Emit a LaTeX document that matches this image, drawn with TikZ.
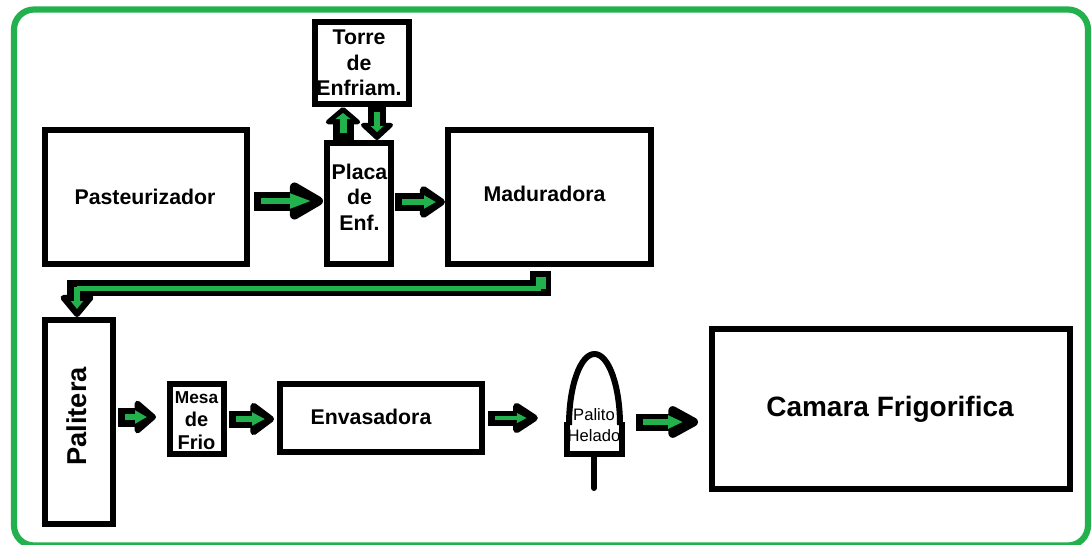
\documentclass[tikz,border=0pt]{standalone}
\usepackage{fontspec}
\setmainfont{Liberation Sans}
\usetikzlibrary{arrows.meta}
\definecolor{flowgreen}{HTML}{22B14C}
\newcommand{\flow}[9]{%
  \draw[line width=#5pt,black,-{Triangle[length=#6pt+2pt,width=#7pt+9pt,round,line width=9pt]}] #1 -- #2;
  \draw[line width=#8pt,flowgreen,-{Triangle[length=#9pt,width=2.1*#8pt]}] #3 -- #4;
}
\tikzset{
  x=1pt,y=-1pt,
  boxs/.style={draw=black,line width=6pt,fill=white,inner sep=0pt,outer sep=3pt,line join=miter},
  lbl/.style={font=\bfseries\fontsize{21.3}{25.5}\selectfont,align=center,inner sep=0pt,text=black},
  frame/.style={draw=flowgreen,line width=6.2pt,rounded corners=20pt},
}
\begin{document}
\begin{tikzpicture}
\useasboundingbox (0,0) rectangle (1092,544);
\fill[white] (0,0) rectangle (1092,544);
\begin{scope}
\clip (0,0) rectangle (1092,544);
\draw[frame] (14,9.5) rectangle (1088,545.5);
\end{scope}
% boxes
\node[boxs,minimum width=202pt,minimum height=134pt] (past) at (146,197) {};
\node[boxs,minimum width=64pt,minimum height=121pt] (placa) at (359,203.5) {};
\node[boxs,minimum width=94pt,minimum height=82pt] (torre) at (362,63) {};
\node[boxs,minimum width=203pt,minimum height=134pt] (madu) at (549.5,197) {};
\node[boxs,minimum width=68pt,minimum height=204pt] (pali) at (79,422) {};
\node[boxs,minimum width=54pt,minimum height=70pt] (mesa) at (197,419) {};
\node[boxs,minimum width=202pt,minimum height=68pt] (enva) at (381,418) {};
\node[boxs,minimum width=358pt,minimum height=160pt] (cama) at (891,409) {};
% popsicle
\node[inner sep=0pt,minimum width=61pt,minimum height=106pt] (helado) at (594.5,404) {};
\draw[line width=6pt,line join=round] (569,425) arc[start angle=180,end angle=0,x radius=25.5,y radius=-71];
\draw[line width=6pt,line join=miter] (567,422) -- (567,454) -- (622,454) -- (622,422);
\coordinate (stickend) at (594,488);
\draw[line width=6pt,line cap=round] (594,454) -- (stickend);
% labels
\node[lbl] (tpast) at (145,197) {Pasteurizador};
\node[lbl] (tplaca) at (359.5,197) {Placa\\de\\Enf.};
\node[lbl] (ttorre) at (359,63) {Torre\\de\\Enfriam.};
\node[lbl] (tmadu) at (544.5,193.5) {Maduradora};
\node[lbl,rotate=90,font=\bfseries\fontsize{27.3}{30}\selectfont] (tpali) at (77,416.5) {Palitera};
\node[lbl,font=\bfseries\fontsize{20}{23}\selectfont] (tmesa) at (196.5,421) {{\fontsize{17.3}{23}\selectfont Mesa}\\de\\Frio};
\node[lbl] (tenva) at (371,417) {Envasadora};
\node[lbl,font=\fontsize{16.6}{20.5}\selectfont] (thel) at (594,425) {Palito\\Helado};
\node[lbl,font=\bfseries\fontsize{28}{32}\selectfont] (tcama) at (890,409) {Camara Frigorifica};
% connectors: black body and green core, given by named ends
\coordinate (r1) at (0,201);
\coordinate (r2) at (0,202);
\coordinate (r3) at (0,417);
\coordinate (r4) at (0,419);
\coordinate (r5) at (0,418);
\coordinate (r6) at (0,422);
\coordinate (c1) at (343,0);
\coordinate (c2) at (377,0);
\begin{scope}[line cap=butt]
\flow{([xshift=4pt]past.east |- r1)}{([xshift=-1pt]placa.west |- r1)}{([xshift=11pt]past.east |- r1)}{([xshift=-12pt]placa.west |- r1)}{19}{36}{32}{6.5}{22}
\flow{([xshift=1pt]placa.east |- r2)}{(madu.west |- r2)}{([xshift=8pt]placa.east |- r2)}{([xshift=-9pt]madu.west |- r2)}{18}{26}{27}{6}{12}
\flow{(placa.north -| c1)}{(torre.south -| c1)}{([yshift=7pt]placa.north -| c1)}{([yshift=-6pt]torre.south -| c1)}{21}{16}{32}{7}{6}
\flow{(torre.south -| c2)}{(placa.north -| c2)}{([yshift=-5pt]torre.south -| c2)}{([yshift=8pt]placa.north -| c2)}{18}{16}{29}{6}{6}
\flow{([xshift=2pt]pali.east |- r3)}{([xshift=-11pt]mesa.west |- r3)}{([xshift=9pt]pali.east |- r3)}{([xshift=-20pt]mesa.west |- r3)}{19}{21}{29}{6}{12}
\flow{([xshift=2pt]mesa.east |- r4)}{([xshift=-3pt]enva.west |- r4)}{([xshift=9pt]mesa.east |- r4)}{([xshift=-12pt]enva.west |- r4)}{17}{24}{28}{6}{13}
\flow{([xshift=3pt]enva.east |- r5)}{([xshift=-26pt]helado.west |- r5)}{([xshift=10pt]enva.east |- r5)}{([xshift=-37pt]helado.west |- r5)}{15}{26}{25}{4.5}{10}
\flow{([xshift=11pt]helado.east |- r6)}{([xshift=-11pt]cama.west |- r6)}{([xshift=18pt]helado.east |- r6)}{([xshift=-26pt]cama.west |- r6)}{17}{33}{26}{6}{15}
% elbow connector Maduradora to Palitera
\coordinate (elbA) at (540.5,271);
\coordinate (elbB) at (540.5,288);
\coordinate (elbC) at (77,288);
\coordinate (elbD) at (540.5,296);
\coordinate (elbE) at (77,280);
\coordinate (elbF) at (541,277);
\coordinate (elbG) at (541,288);
\coordinate (elbH) at (77,287);
\draw[line width=21pt,black] (elbA) -- (elbD);
\draw[line width=16pt,black] (elbB) -- (69,288);
\draw[line width=20pt,black,-{Triangle[length=24pt,width=38pt,round,line width=9pt]}] (elbE) -- (pali.north -| elbE);
\draw[line width=10pt,flowgreen] (elbF) -- (541,289);
\draw[line width=5pt,flowgreen] (elbG) -- (elbC);
\draw[line width=6pt,flowgreen,-{Triangle[length=8pt,width=12pt]}] (elbH) -- ([yshift=8pt]pali.north -| elbH);
\end{scope}
\end{tikzpicture}
\end{document}
